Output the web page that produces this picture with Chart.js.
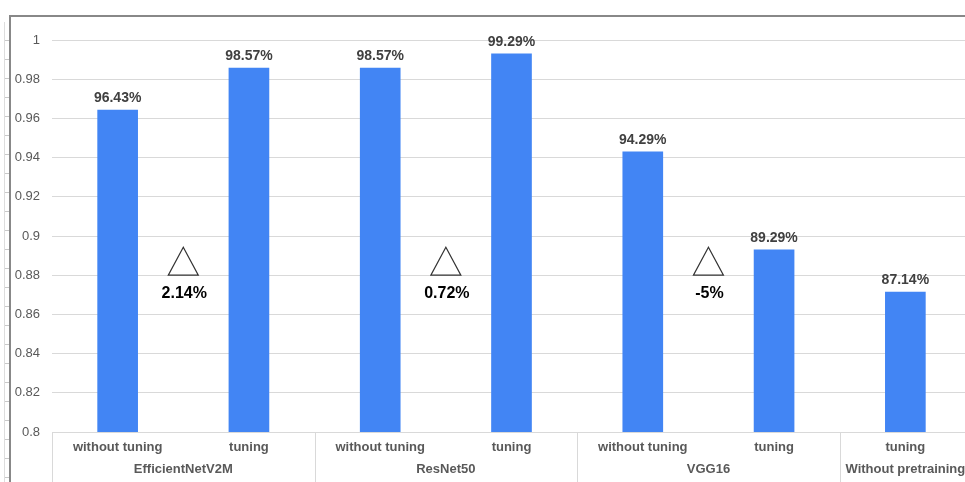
<!DOCTYPE html>
<html>
<head>
<meta charset="utf-8">
<script src="https://cdn.jsdelivr.net/npm/chart.js@4.4.0/dist/chart.umd.min.js"></script>
<style>
    html, body { margin: 0; padding: 0; background: #fff; overflow: hidden; }
    body { width: 965px; height: 482px; position: relative; }
    /* рамка листа */
    #frameTop { position: absolute; left: 9px; top: 15px; width: 960px; height: 2px; background: #888; }
    #frameLeft { position: absolute; left: 9px; top: 15px; width: 2px; height: 470px; background: #888; }
    #ruler {
        position: absolute; left: 4px; top: 22px; width: 5px; height: 460px;
        border-left: 1px solid #ddd;
        background: repeating-linear-gradient(to bottom, transparent 0, transparent 18px, #c8c8c8 18px, #c8c8c8 19px);
    }
    #wrap { position: absolute; left: 0; top: 0; width: 971px; height: 482px; }
</style>
</head>
<body>
<div id="ruler"></div>
<div id="frameTop"></div>
<div id="frameLeft"></div>
<div id="wrap"><canvas id="myChart"></canvas></div>

<script>
    // Данные
    const categories = ['without tuning', 'tuning', 'without tuning', 'tuning', 'without tuning', 'tuning', 'tuning'];
    const accuracy = [0.9643, 0.9857, 0.9857, 0.9929, 0.9429, 0.8929, 0.8714];
    const groupNames = ['EfficientNetV2M', 'ResNet50', 'VGG16', 'Without pretraining'];
    const groupSizes = [2, 2, 2, 1];
    const deltaLabels = ['2.14%', '0.72%', '-5%'];
    const deltaValue = 0.88; // уровень основания треугольника

    const fontFamily = '"Liberation Sans", Arial, sans-serif';

    // Подписи над столбцами
    const valueLabels = {
        id: 'valueLabels',
        afterDatasetsDraw(chart) {
            const ctx = chart.ctx;
            const meta = chart.getDatasetMeta(0);
            ctx.save();
            ctx.font = 'bold 14px ' + fontFamily;
            ctx.fillStyle = '#404040';
            ctx.textAlign = 'center';
            ctx.textBaseline = 'bottom';
            meta.data.forEach((bar, i) => {
                ctx.fillText((accuracy[i] * 100).toFixed(2) + '%', bar.x, bar.y - 5);
            });
            ctx.restore();
        }
    };

    // Группы внизу и разделители
    const groupAxis = {
        id: 'groupAxis',
        afterDraw(chart) {
            const ctx = chart.ctx;
            const x = chart.scales.x;
            const area = chart.chartArea;
            const half = (x.getPixelForValue(1) - x.getPixelForValue(0)) / 2;
            ctx.save();
            ctx.strokeStyle = '#d9d9d9';
            ctx.lineWidth = 1;
            ctx.font = 'bold 13px ' + fontFamily;
            ctx.fillStyle = '#595959';
            ctx.textAlign = 'center';
            ctx.textBaseline = 'middle';
            let start = 0;
            groupSizes.forEach((size, g) => {
                const left = x.getPixelForValue(start) - half;
                const right = x.getPixelForValue(start + size - 1) + half;
                const px = Math.round(left) + 0.5;
                ctx.beginPath();
                ctx.moveTo(px, area.bottom);
                ctx.lineTo(px, chart.height);
                ctx.stroke();
                ctx.fillText(groupNames[g], (left + right) / 2, area.bottom + 37);
                start += size;
            });
            ctx.restore();
        }
    };

    // Треугольники с приростом
    const deltaMarks = {
        id: 'deltaMarks',
        afterDatasetsDraw(chart) {
            const ctx = chart.ctx;
            const x = chart.scales.x;
            const y = chart.scales.y;
            ctx.save();
            deltaLabels.forEach((label, g) => {
                const cx = (x.getPixelForValue(g * 2) + x.getPixelForValue(g * 2 + 1)) / 2;
                const base = y.getPixelForValue(deltaValue);
                ctx.beginPath();
                ctx.moveTo(cx, base - 28);
                ctx.lineTo(cx - 15, base);
                ctx.lineTo(cx + 15, base);
                ctx.closePath();
                ctx.fillStyle = '#fff';
                ctx.fill();
                ctx.strokeStyle = '#333';
                ctx.lineWidth = 1.2;
                ctx.stroke();
                ctx.font = 'bold 16px ' + fontFamily;
                ctx.fillStyle = '#000';
                ctx.textAlign = 'center';
                ctx.textBaseline = 'middle';
                ctx.fillText(label, cx + 1, base + 18);
            });
            ctx.restore();
        }
    };

    new Chart(document.getElementById('myChart'), {
        type: 'bar',
        data: {
            labels: categories,
            datasets: [
                {
                    label: 'Accuracy',
                    data: accuracy,
                    backgroundColor: '#4285F4',
                    barThickness: 40,
                }
            ]
        },
        options: {
            responsive: true,
            maintainAspectRatio: false,
            animation: false,
            layout: {
                padding: {top: 40, left: 0, right: 0, bottom: 0}
            },
            plugins: {
                legend: {display: false},
                tooltip: {enabled: false}
            },
            scales: {
                x: {
                    grid: {display: false},
                    border: {color: '#d9d9d9'},
                    ticks: {
                        color: '#595959',
                        font: {family: fontFamily, size: 13, weight: 'bold'},
                        padding: 0,
                        maxRotation: 0,
                        autoSkip: false
                    },
                    afterFit(scale) {
                        scale.height = 50;
                    }
                },
                y: {
                    min: 0.8,
                    max: 1,
                    border: {display: false},
                    grid: {color: '#d9d9d9', drawTicks: false},
                    ticks: {
                        stepSize: 0.02,
                        padding: 12,
                        color: '#595959',
                        font: {family: fontFamily, size: 13},
                        callback: (v) => String(+v.toFixed(2))
                    },
                    afterFit(scale) {
                        scale.width = 52;
                    }
                }
            }
        },
        plugins: [valueLabels, deltaMarks, groupAxis]
    });
</script>
</body>
</html>
